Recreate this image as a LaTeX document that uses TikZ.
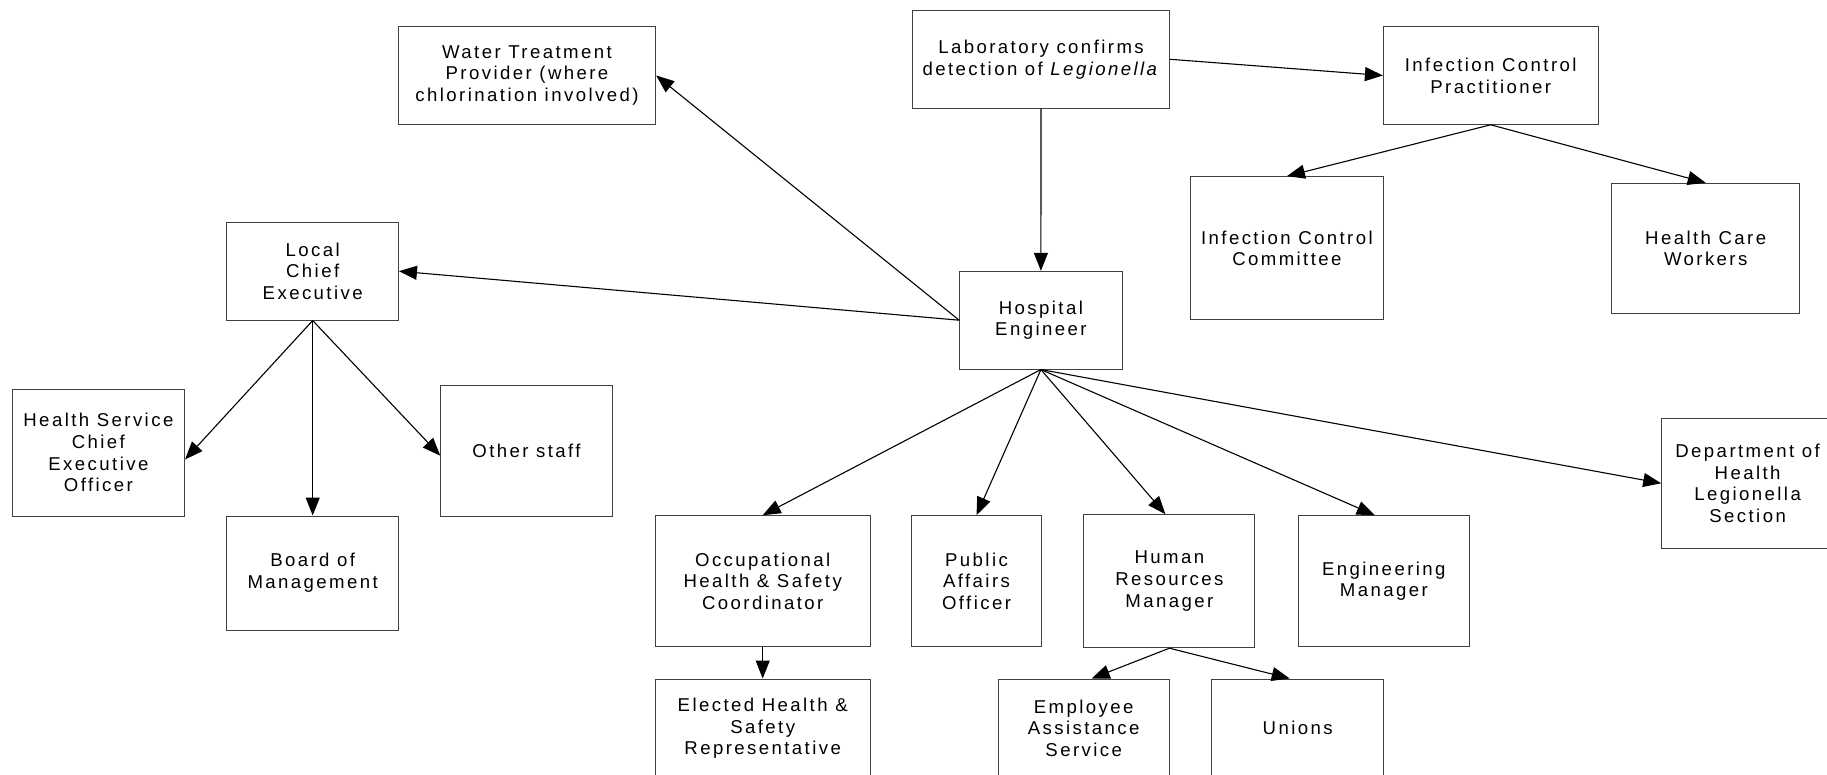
\documentclass[tikz,border=0pt]{standalone}
\usepackage{fontspec}
\usetikzlibrary{arrows.meta}
\newfontfamily\boxfont[LetterSpace=13]{Liberation Sans}
\tikzset{
  box/.style={draw=black!75, line width=1pt, inner sep=0pt, align=center,
    font=\boxfont\fontsize{18.6pt}{21.8pt}\selectfont},
  link/.style={draw=black, line width=1.1pt, -{Triangle[length=18pt,width=14pt]}}
}
\begin{document}
\begin{tikzpicture}[x=1pt,y=-1pt]
\fill[white] (0,0) rectangle (1827,775);
\useasboundingbox (0,0) rectangle (1827,775);
\clip (0,0) rectangle (1827,775);
% top row
\node[box, minimum width=257.3pt, minimum height=97.6pt] (water) at (527,75.5) {Water Treatment\\Provider (where\\chlorination involved)};
\node[box, minimum width=257.3pt, minimum height=98pt] (lab) at (1041,59.3) {Laboratory confirms\\detection of \textit{Legionella}};
\node[box, minimum width=214.6pt, minimum height=97.6pt] (icp) at (1490.7,75.5) {Infection Control\\Practitioner};
\node[box, minimum width=193.1pt, minimum height=143.3pt] (icc) at (1286.9,248.3) {Infection Control\\Committee};
\node[box, minimum width=188.2pt, minimum height=130pt] (hcw) at (1705.7,248.3) {Health Care\\Workers};
% middle
\node[box, minimum width=171.5pt, minimum height=97.7pt] (lce) at (312.7,271.2) {Local\\Chief\\Executive};
\node[box, minimum width=162.5pt, minimum height=97.7pt] (he) at (1040.9,320.2) {Hospital\\Engineer};
\node[box, minimum width=172.3pt, minimum height=127pt] (hsceo) at (98.4,452.5) {Health Service\\Chief\\Executive\\Officer};
\node[box, minimum width=171.4pt, minimum height=130.7pt] (other) at (526.5,450.7) {Other staff};
\node[box, minimum width=171.5pt, minimum height=114pt] (board) at (312.7,573) {Board of\\Management};
\node[box, minimum width=171.8pt, minimum height=130pt] (dept) at (1747.6,483.3) {Department of\\Health\\Legionella\\Section};
% lower row
\node[box, minimum width=214.8pt, minimum height=131pt] (ohs) at (762.7,581.2) {Occupational\\Health \& Safety\\Coordinator};
\node[box, minimum width=129.1pt, minimum height=131pt] (pub) at (976.5,581.2) {Public\\Affairs\\Officer};
\node[box, minimum width=170.9pt, minimum height=133pt] (hr) at (1169.4,581.2) {Human\\Resources\\Manager};
\node[box, minimum width=171.4pt, minimum height=131pt] (eng) at (1383.8,581.2) {Engineering\\Manager};
% bottom row
\node[box, minimum width=214.8pt, minimum height=98.6pt] (elected) at (762.7,728.3) {Elected Health \&\\Safety\\Representative};
\node[box, minimum width=170.9pt, minimum height=98.6pt] (eas) at (1083.7,728.3) {Employee\\Assistance\\Service};
\node[box, minimum width=171.5pt, minimum height=98.6pt] (unions) at (1297.7,728.3) {Unions};
% connectors
\draw[link] (lab.south) -- (he.north);
\draw[link] (lab.east) -- (icp.west);
\draw[link] (icp.south) -- (icc.north);
\draw[link] (icp.south) -- (hcw.north);
\draw[link] (he.west) -- (water.east);
\draw[link] (he.west) -- (lce.east);
\draw[link] (lce.south) -- ([yshift=-7pt]hsceo.east);
\draw[link] (lce.south) -- (board.north);
\draw[link] (lce.south) -- ([yshift=-5pt]other.west);
\draw[link] (he.south) -- (ohs.north);
\draw[link] (he.south) -- (pub.north);
\draw[link] (he.south) -- ([xshift=-4pt]hr.north);
\draw[link] (he.south) -- ([xshift=-9pt]eng.north);
\draw[link] (he.south) -- (dept.west);
\draw[link] (ohs.south) -- (elected.north);
\draw[link] (hr.south) -- ([xshift=8pt]eas.north);
\draw[link] (hr.south) -- ([xshift=-8pt]unions.north);
\end{tikzpicture}
\end{document}
